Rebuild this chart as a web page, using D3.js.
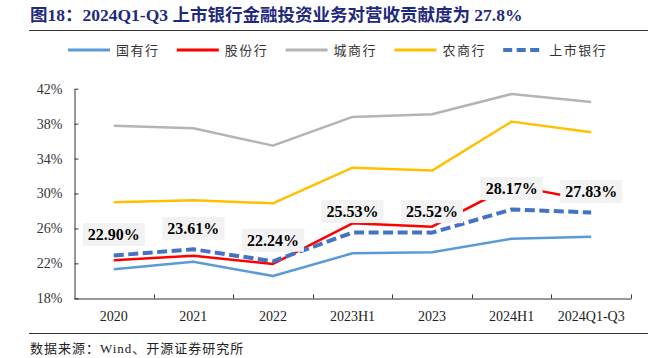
<!DOCTYPE html>
<html><head><meta charset="utf-8">
<script src="https://cdn.jsdelivr.net/npm/d3@7/dist/d3.min.js"></script>
<style>
body{margin:0;background:#fff;}
svg{display:block;}
</style></head>
<body>
<svg id="c" width="654" height="358"></svg>
<script>
const categories = ["2020","2021","2022","2023H1","2023","2024H1","2024Q1-Q3"];
const guoyou   = [21.32, 22.19, 20.55, 23.15, 23.27, 24.83, 25.06];
const gufen    = [22.35, 22.88, 21.93, 26.59, 26.20, 30.90, 29.20];
const chengshang = [37.77, 37.47, 35.48, 38.77, 39.08, 41.40, 40.49];
const nongshang  = [29.00, 29.23, 28.88, 32.96, 32.62, 38.23, 37.01];
const listed   = [22.90, 23.61, 22.24, 25.53, 25.52, 28.17, 27.83];
const yTicks = [18, 22, 26, 30, 34, 38, 42];
const seriesNames = ["国有行","股份行","城商行","农商行","上市银行"];
const titleText = "图18：2024Q1-Q3 上市银行金融投资业务对营收贡献度为 27.8%";
const sourceText = "数据来源：Wind、开源证券研究所";

const serif = "'Liberation Serif','Times New Roman','Noto Sans CJK SC',serif";
const cjk = "'Liberation Serif','Noto Sans CJK SC',sans-serif";

const svg = d3.select("#c");
const x = d3.scaleBand().domain(categories).range([74, 631]).padding(0);
const y = d3.scaleLinear().domain([18, 42]).range([298.3, 88.7]);
const cx = d => x(d) + x.bandwidth() / 2;

// title
svg.append("text").attr("x", 30).attr("y", 21)
  .attr("font-family", cjk).attr("font-weight", "bold").attr("font-size", 17.5)
  .attr("fill", "#1f2a7c").text(titleText);
svg.append("line").attr("x1", 29).attr("x2", 648).attr("y1", 30.5).attr("y2", 30.5)
  .attr("stroke", "#333").attr("stroke-width", 1);
svg.append("line").attr("x1", 29).attr("x2", 648).attr("y1", 333.5).attr("y2", 333.5)
  .attr("stroke", "#333").attr("stroke-width", 1);
svg.append("text").attr("x", 30).attr("y", 353)
  .attr("font-family", cjk).attr("font-size", 13).attr("letter-spacing", 1)
  .attr("fill", "#222").text(sourceText);

const series = [
  {name: seriesNames[0], values: guoyou, color: "#5b9bd5", w: 2.5, dash: null},
  {name: seriesNames[1], values: gufen, color: "#ff0000", w: 2.5, dash: null},
  {name: seriesNames[2], values: chengshang, color: "#b4b4b4", w: 2.5, dash: null},
  {name: seriesNames[3], values: nongshang, color: "#ffc000", w: 2.5, dash: null},
  {name: seriesNames[4], values: listed, color: "#4472c4", w: 4, dash: "10,4.5"}
];

// legend
const lg = svg.append("g");
series.forEach((s, i) => {
  const x0 = 68 + i * 108.8;
  lg.append("line").attr("x1", x0).attr("x2", x0 + (s.dash ? 39 : 42)).attr("y1", 50).attr("y2", 50)
    .attr("stroke", s.color).attr("stroke-width", s.dash ? 4 : 3)
    .attr("stroke-dasharray", s.dash ? "9,4.5" : null);
  lg.append("text").attr("x", x0 + (s.dash ? 46 : 48)).attr("y", 54.5)
    .attr("font-family", cjk).attr("font-size", 13).attr("letter-spacing", 1.5)
    .attr("fill", "#333").text(s.name);
});

// axes
const yAxis = d3.axisLeft(y).tickValues(yTicks).tickSizeInner(-4).tickSizeOuter(0)
  .tickPadding(12).tickFormat(d => d + "%");
const ga = svg.append("g").attr("transform", "translate(74.5,0)").call(yAxis);
ga.select(".domain").attr("stroke", "#333");
ga.selectAll(".tick line").attr("stroke", "#333");
ga.selectAll("text").attr("font-family", serif).attr("font-size", 14).attr("fill", "#333");

const xAxis = d3.axisBottom(x).tickSize(0).tickPadding(13);
const gx = svg.append("g").attr("transform", "translate(0,298.5)").call(xAxis);
gx.select(".domain").attr("stroke", "#333");
gx.selectAll("text").attr("font-family", serif).attr("font-size", 14).attr("fill", "#222");
svg.append("g").selectAll("line").data(categories).join("line")
  .attr("x1", d => Math.round(x(d) + x.bandwidth()) + 0.5)
  .attr("x2", d => Math.round(x(d) + x.bandwidth()) + 0.5)
  .attr("y1", 298.5).attr("y2", 294.5).attr("stroke", "#333");

// lines
const line = d3.line().x((d, i) => cx(categories[i])).y(d => y(d));
series.forEach(s => {
  svg.append("path").datum(s.values).attr("d", line)
    .attr("fill", "none").attr("stroke", s.color).attr("stroke-width", s.w)
    .attr("stroke-dasharray", s.dash).attr("stroke-linejoin", "round");
});

// labels
const lab = svg.append("g");
listed.forEach((v, i) => {
  const g = lab.append("g").attr("transform", `translate(${cx(categories[i])},${y(v) - 21})`);
  const r = g.append("rect").attr("fill", "#f2f2f2");
  const t = g.append("text").attr("text-anchor", "middle").attr("y", 5.5)
    .attr("font-family", serif).attr("font-weight", "bold").attr("font-size", 16)
    .attr("fill", "#000").text(v.toFixed(2) + "%");
  const bb = t.node().getBBox();
  r.attr("x", -31).attr("y", -11.5).attr("width", 62).attr("height", 23);
});
</script>
</body></html>
